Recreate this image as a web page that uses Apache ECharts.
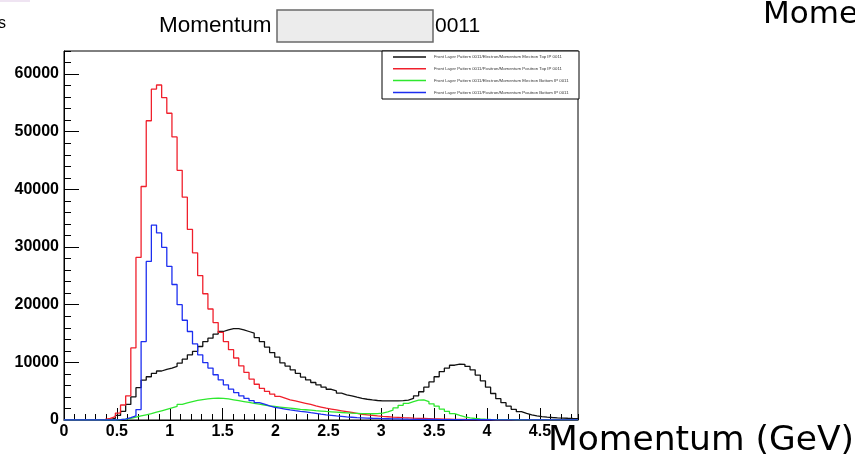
<!DOCTYPE html>
<html><head><meta charset="utf-8">
<script src="https://cdn.jsdelivr.net/npm/echarts@6/dist/echarts.min.js"></script>
<style>html,body{margin:0;padding:0;background:#fff;overflow:hidden}#c{width:855px;height:465px;}</style>
</head><body><div id="c"></div><script>
// ---- data (100 bins from 0 to 4.86 GeV) ----
const nBins = 100;
const xMax = 4.86;
const yMax = 64000;
const xTickLabels = ['0','0.5','1','1.5','2','2.5','3','3.5','4','4.5'];
const yTickLabels = ['0','10000','20000','30000','40000','50000','60000'];
const seriesNames = [
  'Front Layer Pattern 0011/Electron/Momentum Electron Top IP 0011',
  'Front Layer Pattern 0011/Positron/Momentum Positron Top IP 0011',
  'Front Layer Pattern 0011/Electron/Momentum Electron Bottom IP 0011',
  'Front Layer Pattern 0011/Positron/Momentum Positron Bottom IP 0011'
];
const electronTop = [0,0,0,0,0,0,0,0,100,300,
  800,1500,2700,4000,5600,6900,7500,8100,8500,8800,
  9000,9300,9850,10550,11300,11900,12750,13600,14200,14900,
  15350,15650,15850,15850,15650,15350,15050,14300,13600,12650,
  11700,10900,9900,9350,8700,8100,7450,6950,6500,6100,
  5700,5330,5040,4650,4350,4170,3950,3770,3600,3480,
  3380,3320,3300,3300,3300,3350,3450,3750,4200,4900,
  5700,6600,7500,8400,9000,9500,9700,9650,9300,8700,
  7800,6800,5700,4600,3700,3000,2400,1850,1450,1150,
  900,720,600,500,430,380,340,300,270,250];
const positronTop = [0,0,0,0,0,0,0,100,300,600,
  1200,2600,4200,12500,28200,40500,51900,57400,58100,55900,
  53200,49100,43300,38650,33050,29000,25050,21900,19250,16900,
  15200,13600,12200,10750,9400,8250,7100,6200,5500,4950,
  4500,4100,3800,3500,3300,3100,2900,2700,2450,2250,
  2050,1900,1750,1600,1450,1300,1150,1000,900,800,
  700,620,560,500,450,400,360,320,290,260,
  230,200,180,160,140,120,100,90,80,70,
  60,55,50,45,40,38,35,32,30,28,
  26,24,22,20,18,16,14,12,10,8];
const electronBottom = [0,0,0,0,0,0,0,0,0,0,
  50,150,300,500,700,900,1100,1350,1600,1850,
  2100,2350,2700,2950,3200,3400,3550,3650,3750,3800,
  3750,3650,3500,3350,3200,3050,2900,2750,2600,2450,
  2350,2250,2150,2050,1950,1850,1780,1700,1620,1550,
  1480,1420,1360,1300,1250,1200,1160,1120,1100,1080,
  1100,1200,1400,1700,2100,2550,2900,3200,3450,3500,
  3200,2800,2400,1900,1500,1100,800,550,380,260,
  180,130,100,80,70,60,50,45,40,35,
  30,28,26,24,22,20,18,16,14,12];
const positronBottom = [0,0,0,0,0,0,0,0,0,0,
  50,150,400,700,1800,13600,27500,33800,32450,29950,
  26650,23500,20000,17300,15350,13200,11300,9950,9000,7850,
  6950,6100,5350,4750,4200,3750,3350,3000,2750,2450,
  2200,2050,1900,1750,1620,1500,1400,1270,1150,1020,
  900,800,700,620,540,480,420,380,340,300,
  270,240,220,200,180,160,140,125,110,100,
  90,85,80,75,70,65,60,56,52,48,
  45,42,40,38,35,32,30,28,26,24,
  22,20,18,16,14,12,10,8,6,5];

// ---- build step data from bin low edges ----
const binW = xMax / nBins;
function steps(vals){
  const d = vals.map((v,i)=>[i*binW, v]);
  d.push([nBins*binW, vals[vals.length-1]]);
  return d;
}
const colors = ['#111111','#f0202c','#2ee82e','#1c2ef0'];
const allVals = [electronTop, positronTop, electronBottom, positronBottom];

const chart = echarts.init(document.getElementById('c'), null, {renderer:'canvas'});
const labelFont = {fontFamily:'Liberation Sans', fontWeight:'bold', fontSize:16, color:'#000'};
const option = {
  animation:false,
  backgroundColor:'#fff',
  grid:{left:64, right:277, top:51, bottom:45, show:true, borderColor:'#000', borderWidth:1, backgroundColor:'transparent'},
  xAxis:[
    {type:'value', min:0, max:xMax, interval:0.5, position:'bottom',
     axisLine:{show:true, lineStyle:{color:'#000', width:1}},
     axisTick:{show:true, inside:true, length:12, lineStyle:{color:'#000'}},
     axisLabel:Object.assign({margin:4, showMaxLabel:false, formatter:v=>{const s=String(Math.round(v*10)/10);return xTickLabels.indexOf(s)>=0?s:'';}}, labelFont),
     splitLine:{show:false}},
    {type:'value', min:0, max:xMax, interval:0.1, position:'bottom', offset:0,
     axisLine:{show:false}, axisLabel:{show:false}, splitLine:{show:false},
     axisTick:{show:true, inside:true, length:6, lineStyle:{color:'#000'}}}
  ],
  yAxis:[
    {type:'value', min:0, max:yMax, interval:10000, position:'left',
     axisLine:{show:true, lineStyle:{color:'#000', width:1}},
     axisTick:{show:true, inside:true, length:15, lineStyle:{color:'#000'}},
     axisLabel:Object.assign({margin:5, showMaxLabel:false, formatter:v=>{const s=String(v);return yTickLabels.indexOf(s)>=0?s:'';}}, labelFont),
     splitLine:{show:false}},
    {type:'value', min:0, max:yMax, interval:2000, position:'left', offset:0,
     axisLine:{show:false}, axisLabel:{show:false}, splitLine:{show:false},
     axisTick:{show:true, inside:true, length:7, lineStyle:{color:'#000'}}}
  ],
  legend:{
    orient:'vertical', left:393, top:55, padding:0, itemWidth:33, itemHeight:1.5, itemGap:7.8, icon:'rect',
    textStyle:{fontSize:4.3, color:'#333', fontFamily:'Liberation Sans', padding:[0,0,0,3]},
    data:seriesNames
  },
  series: allVals.map((vals,i)=>({
    name:seriesNames[i], type:'line', step:'end', symbol:'none', showSymbol:false,
    xAxisIndex:0, yAxisIndex:0, data:steps(vals),
    lineStyle:{color:colors[i], width:1.3}, itemStyle:{color:colors[i]},
    z:2+i, clip:true
  })),
  graphic:[
    {type:'rect', shape:{x:382, y:51, width:197, height:48}, style:{fill:'#fff', stroke:'#000', lineWidth:1}, z:1, silent:true},
    {type:'text', x:159, y:26, style:{text:'Momentum', font:'22.5px "Liberation Sans"', fill:'#000', textVerticalAlign:'middle'}},
    {type:'rect', shape:{x:277, y:10, width:156, height:32}, style:{fill:'#ececec', stroke:'#6a6a6a', lineWidth:1.5}},
    {type:'text', x:435, y:26, style:{text:'0011', font:'21px "Liberation Sans"', fill:'#000', textVerticalAlign:'middle'}},
    {type:'text', x:548, y:441, style:{text:'Momentum (GeV)', font:'34.5px "DejaVu Sans"', fill:'#000', textVerticalAlign:'middle'}},
    {type:'text', x:763, y:15, style:{text:'Momentum', font:'31px "DejaVu Sans"', fill:'#000', textVerticalAlign:'middle'}},
    {type:'text', x:6, y:24, style:{text:'s', font:'16px "Liberation Sans"', fill:'#000', textAlign:'right', textVerticalAlign:'middle'}},
    {type:'rect', shape:{x:0, y:0, width:30, height:2}, style:{fill:'#efe4f2'}}
  ]
};
chart.setOption(option);
</script></body></html>
